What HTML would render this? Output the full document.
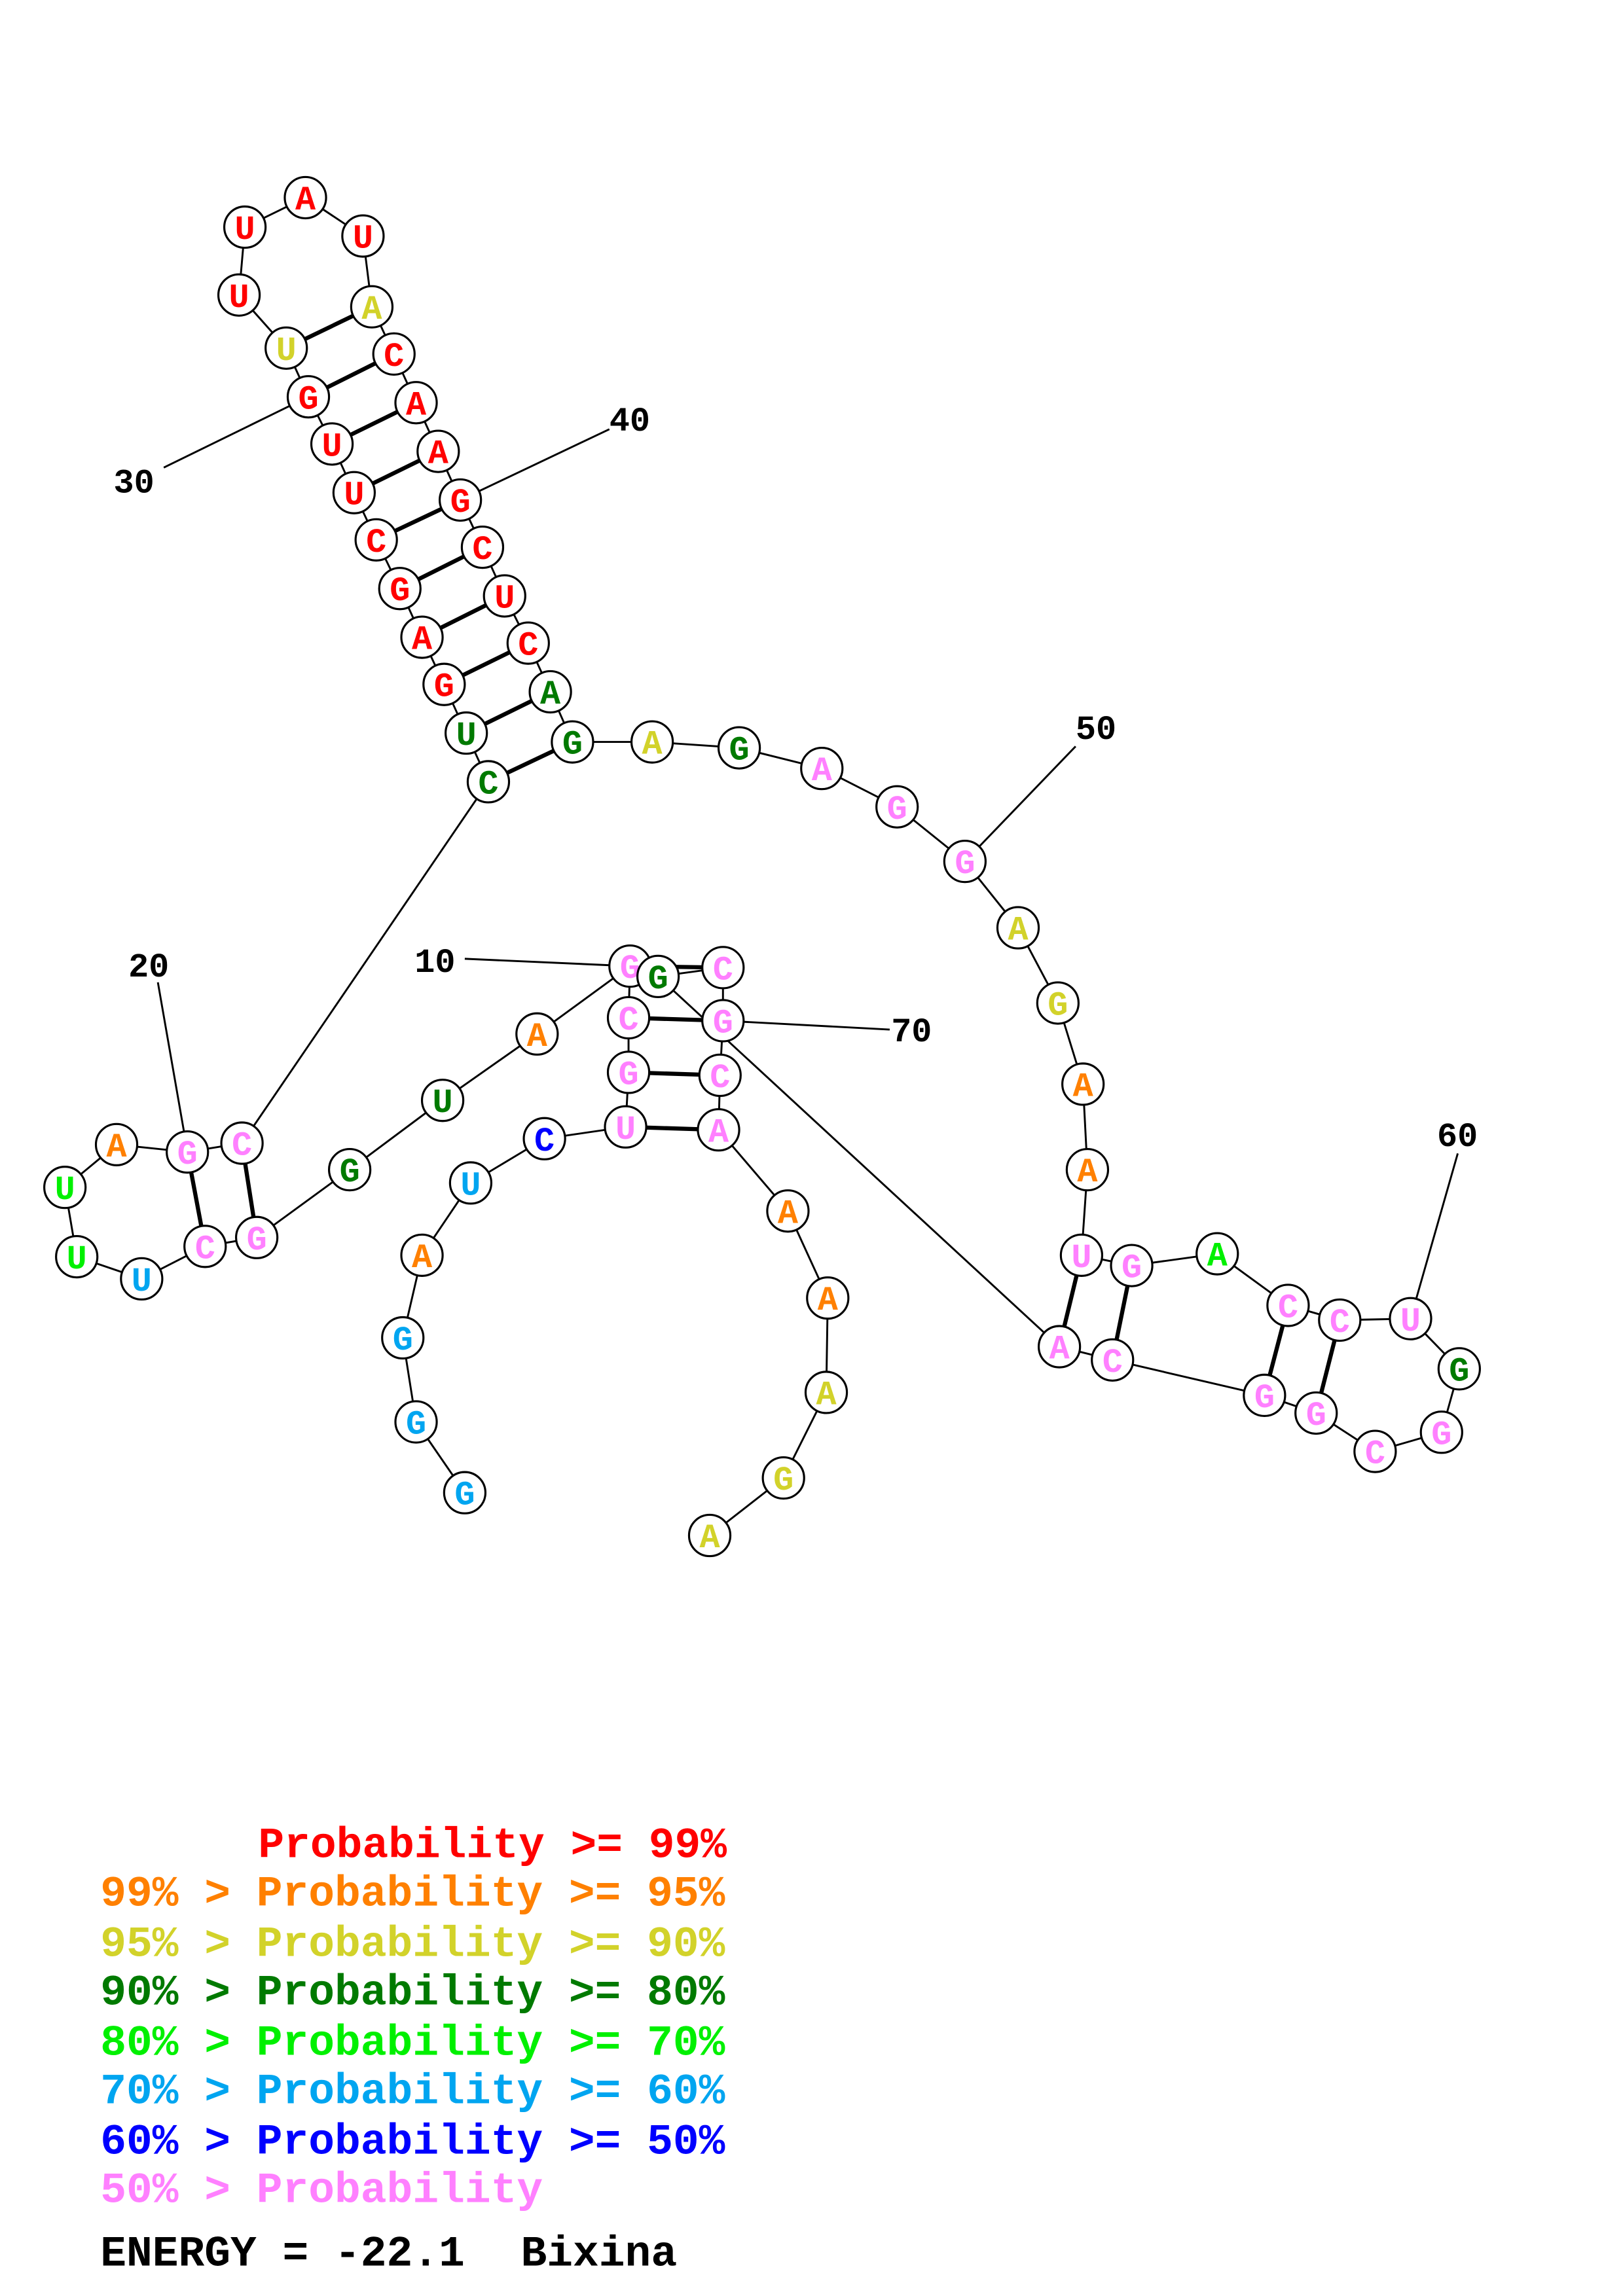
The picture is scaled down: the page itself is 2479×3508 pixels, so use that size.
<!DOCTYPE html>
<html><head><meta charset="utf-8"><style>
html,body{margin:0;padding:0;background:#fff;}
svg{display:block}
.n circle{fill:#fff;stroke:#000;stroke-width:1.4}
.n text{font-family:"Liberation Mono",monospace;font-weight:bold;font-size:23px;text-anchor:middle}
.r{fill:#ff0000}.o{fill:#ff8000}.y{fill:#d2d22a}.d{fill:#007a00}.g{fill:#00f000}.l{fill:#00a5f0}.b{fill:#0000ff}.p{fill:#ff80ff}
.lab{font-family:"Liberation Mono",monospace;font-weight:bold;font-size:23px;fill:#000}
.leg{font-family:"Liberation Mono",monospace;font-weight:bold;font-size:29.4px}
</style></head><body>
<svg width="2479" height="3508" viewBox="0 0 1100 1556.6" xmlns="http://www.w3.org/2000/svg">
<rect width="1100" height="1557" fill="#fff"/>
<g transform="translate(-1,-1)">
<g stroke="#000" stroke-width="1.3" fill="none">
<polyline points="316,1013 283,965 274,908 287,852 320,803 370,773 425,765 427,728 427,691 428,656 365,702 301,747 238,794 175,840 140,846 97,868 53,853 45,806 80,777 128,782 165,776 332,531 317,498 302,465 287,433 272,400 256,367 241,335 226,302 210,270 195,237 163,201 167,155 208,135 247,161 253,209 268,241 283,274 298,307 313,340 328,372 343,405 359,437 374,470 389,504 443,504 502,508 558,522 609,548 655,585 691,630 718,681 735,736 738,794 734,852 768,859 826,851 874,886 909,896 957,895 990,929 978,972 933,985 893,959 858,947 755,923 719,914 447,663 491,657 491,693 489,730 488,767 535,822 562,881 561,945 532,1003 482,1042"/>
<line x1="316" y1="651" x2="428" y2="656"/>
<line x1="108" y1="667" x2="126" y2="770"/>
<line x1="112" y1="318" x2="210" y2="270"/>
<line x1="414" y1="292" x2="313" y2="340"/>
<line x1="730" y1="507" x2="655" y2="585"/>
<line x1="989" y1="783" x2="957" y2="895"/>
<line x1="491" y1="693" x2="604" y2="699"/>
</g>
<g stroke="#000" stroke-width="2.8">
<line x1="425" y1="765" x2="488" y2="767"/><line x1="427" y1="728" x2="489" y2="730"/>
<line x1="427" y1="691" x2="491" y2="693"/><line x1="428" y1="656" x2="491" y2="657"/>
<line x1="165" y1="776" x2="175" y2="840"/><line x1="128" y1="782" x2="140" y2="846"/>
<line x1="332" y1="531" x2="389" y2="504"/><line x1="317" y1="498" x2="374" y2="470"/>
<line x1="302" y1="465" x2="359" y2="437"/><line x1="287" y1="433" x2="343" y2="405"/>
<line x1="272" y1="400" x2="328" y2="372"/><line x1="256" y1="367" x2="313" y2="340"/>
<line x1="241" y1="335" x2="298" y2="307"/><line x1="226" y1="302" x2="283" y2="274"/>
<line x1="210" y1="270" x2="268" y2="241"/><line x1="195" y1="237" x2="253" y2="209"/>
<line x1="734" y1="852" x2="719" y2="914"/><line x1="768" y1="859" x2="755" y2="923"/>
<line x1="874" y1="886" x2="858" y2="947"/><line x1="909" y1="896" x2="893" y2="959"/>
</g>
<g class="n">
<g transform="translate(316,1013)"><circle r="14"/><text y="8" class="l">G</text></g>
<g transform="translate(283,965)"><circle r="14"/><text y="8" class="l">G</text></g>
<g transform="translate(274,908)"><circle r="14"/><text y="8" class="l">G</text></g>
<g transform="translate(287,852)"><circle r="14"/><text y="8" class="o">A</text></g>
<g transform="translate(320,803)"><circle r="14"/><text y="8" class="l">U</text></g>
<g transform="translate(370,773)"><circle r="14"/><text y="8" class="b">C</text></g>
<g transform="translate(425,765)"><circle r="14"/><text y="8" class="p">U</text></g>
<g transform="translate(427,728)"><circle r="14"/><text y="8" class="p">G</text></g>
<g transform="translate(427,691)"><circle r="14"/><text y="8" class="p">C</text></g>
<g transform="translate(428,656)"><circle r="14"/><text y="8" class="p">G</text></g>
<g transform="translate(365,702)"><circle r="14"/><text y="8" class="o">A</text></g>
<g transform="translate(301,747)"><circle r="14"/><text y="8" class="d">U</text></g>
<g transform="translate(238,794)"><circle r="14"/><text y="8" class="d">G</text></g>
<g transform="translate(175,840)"><circle r="14"/><text y="8" class="p">G</text></g>
<g transform="translate(140,846)"><circle r="14"/><text y="8" class="p">C</text></g>
<g transform="translate(97,868)"><circle r="14"/><text y="8" class="l">U</text></g>
<g transform="translate(53,853)"><circle r="14"/><text y="8" class="g">U</text></g>
<g transform="translate(45,806)"><circle r="14"/><text y="8" class="g">U</text></g>
<g transform="translate(80,777)"><circle r="14"/><text y="8" class="o">A</text></g>
<g transform="translate(128,782)"><circle r="14"/><text y="8" class="p">G</text></g>
<g transform="translate(165,776)"><circle r="14"/><text y="8" class="p">C</text></g>
<g transform="translate(332,531)"><circle r="14"/><text y="8" class="d">C</text></g>
<g transform="translate(317,498)"><circle r="14"/><text y="8" class="d">U</text></g>
<g transform="translate(302,465)"><circle r="14"/><text y="8" class="r">G</text></g>
<g transform="translate(287,433)"><circle r="14"/><text y="8" class="r">A</text></g>
<g transform="translate(272,400)"><circle r="14"/><text y="8" class="r">G</text></g>
<g transform="translate(256,367)"><circle r="14"/><text y="8" class="r">C</text></g>
<g transform="translate(241,335)"><circle r="14"/><text y="8" class="r">U</text></g>
<g transform="translate(226,302)"><circle r="14"/><text y="8" class="r">U</text></g>
<g transform="translate(210,270)"><circle r="14"/><text y="8" class="r">G</text></g>
<g transform="translate(195,237)"><circle r="14"/><text y="8" class="y">U</text></g>
<g transform="translate(163,201)"><circle r="14"/><text y="8" class="r">U</text></g>
<g transform="translate(167,155)"><circle r="14"/><text y="8" class="r">U</text></g>
<g transform="translate(208,135)"><circle r="14"/><text y="8" class="r">A</text></g>
<g transform="translate(247,161)"><circle r="14"/><text y="8" class="r">U</text></g>
<g transform="translate(253,209)"><circle r="14"/><text y="8" class="y">A</text></g>
<g transform="translate(268,241)"><circle r="14"/><text y="8" class="r">C</text></g>
<g transform="translate(283,274)"><circle r="14"/><text y="8" class="r">A</text></g>
<g transform="translate(298,307)"><circle r="14"/><text y="8" class="r">A</text></g>
<g transform="translate(313,340)"><circle r="14"/><text y="8" class="r">G</text></g>
<g transform="translate(328,372)"><circle r="14"/><text y="8" class="r">C</text></g>
<g transform="translate(343,405)"><circle r="14"/><text y="8" class="r">U</text></g>
<g transform="translate(359,437)"><circle r="14"/><text y="8" class="r">C</text></g>
<g transform="translate(374,470)"><circle r="14"/><text y="8" class="d">A</text></g>
<g transform="translate(389,504)"><circle r="14"/><text y="8" class="d">G</text></g>
<g transform="translate(443,504)"><circle r="14"/><text y="8" class="y">A</text></g>
<g transform="translate(502,508)"><circle r="14"/><text y="8" class="d">G</text></g>
<g transform="translate(558,522)"><circle r="14"/><text y="8" class="p">A</text></g>
<g transform="translate(609,548)"><circle r="14"/><text y="8" class="p">G</text></g>
<g transform="translate(655,585)"><circle r="14"/><text y="8" class="p">G</text></g>
<g transform="translate(691,630)"><circle r="14"/><text y="8" class="y">A</text></g>
<g transform="translate(718,681)"><circle r="14"/><text y="8" class="y">G</text></g>
<g transform="translate(735,736)"><circle r="14"/><text y="8" class="o">A</text></g>
<g transform="translate(738,794)"><circle r="14"/><text y="8" class="o">A</text></g>
<g transform="translate(734,852)"><circle r="14"/><text y="8" class="p">U</text></g>
<g transform="translate(768,859)"><circle r="14"/><text y="8" class="p">G</text></g>
<g transform="translate(826,851)"><circle r="14"/><text y="8" class="g">A</text></g>
<g transform="translate(874,886)"><circle r="14"/><text y="8" class="p">C</text></g>
<g transform="translate(909,896)"><circle r="14"/><text y="8" class="p">C</text></g>
<g transform="translate(957,895)"><circle r="14"/><text y="8" class="p">U</text></g>
<g transform="translate(990,929)"><circle r="14"/><text y="8" class="d">G</text></g>
<g transform="translate(978,972)"><circle r="14"/><text y="8" class="p">G</text></g>
<g transform="translate(933,985)"><circle r="14"/><text y="8" class="p">C</text></g>
<g transform="translate(893,959)"><circle r="14"/><text y="8" class="p">G</text></g>
<g transform="translate(858,947)"><circle r="14"/><text y="8" class="p">G</text></g>
<g transform="translate(755,923)"><circle r="14"/><text y="8" class="p">C</text></g>
<g transform="translate(719,914)"><circle r="14"/><text y="8" class="p">A</text></g>
<g transform="translate(447,663)"><circle r="14"/><text y="8" class="d">G</text></g>
<g transform="translate(491,657)"><circle r="14"/><text y="8" class="p">C</text></g>
<g transform="translate(491,693)"><circle r="14"/><text y="8" class="p">G</text></g>
<g transform="translate(489,730)"><circle r="14"/><text y="8" class="p">C</text></g>
<g transform="translate(488,767)"><circle r="14"/><text y="8" class="p">A</text></g>
<g transform="translate(535,822)"><circle r="14"/><text y="8" class="o">A</text></g>
<g transform="translate(562,881)"><circle r="14"/><text y="8" class="o">A</text></g>
<g transform="translate(561,945)"><circle r="14"/><text y="8" class="y">A</text></g>
<g transform="translate(532,1003)"><circle r="14"/><text y="8" class="y">G</text></g>
<g transform="translate(482,1042)"><circle r="14"/><text y="8" class="y">A</text></g>
</g>
<text class="lab" x="282" y="660">10</text>
<text class="lab" x="88" y="663">20</text>
<text class="lab" x="78" y="335">30</text>
<text class="lab" x="414" y="293">40</text>
<text class="lab" x="730" y="502">50</text>
<text class="lab" x="975" y="778">60</text>
<text class="lab" x="605" y="707">70</text>
</g>
<g class="leg">
<text x="175" y="1259" fill="#ff0000">Probability &gt;= 99%</text>
<text x="68" y="1292" fill="#ff8000">99% &gt; Probability &gt;= 95%</text>
<text x="68" y="1326" fill="#d2d22a">95% &gt; Probability &gt;= 90%</text>
<text x="68" y="1359" fill="#007a00">90% &gt; Probability &gt;= 80%</text>
<text x="68" y="1393" fill="#00f000">80% &gt; Probability &gt;= 70%</text>
<text x="68" y="1426" fill="#00a5f0">70% &gt; Probability &gt;= 60%</text>
<text x="68" y="1460" fill="#0000ff">60% &gt; Probability &gt;= 50%</text>
<text x="68" y="1493" fill="#ff80ff">50% &gt; Probability</text>
<text x="68" y="1536" fill="#000">ENERGY = -22.1</text>
<text x="353" y="1536" fill="#000">Bixina</text>
</g>
</svg>
</body></html>
